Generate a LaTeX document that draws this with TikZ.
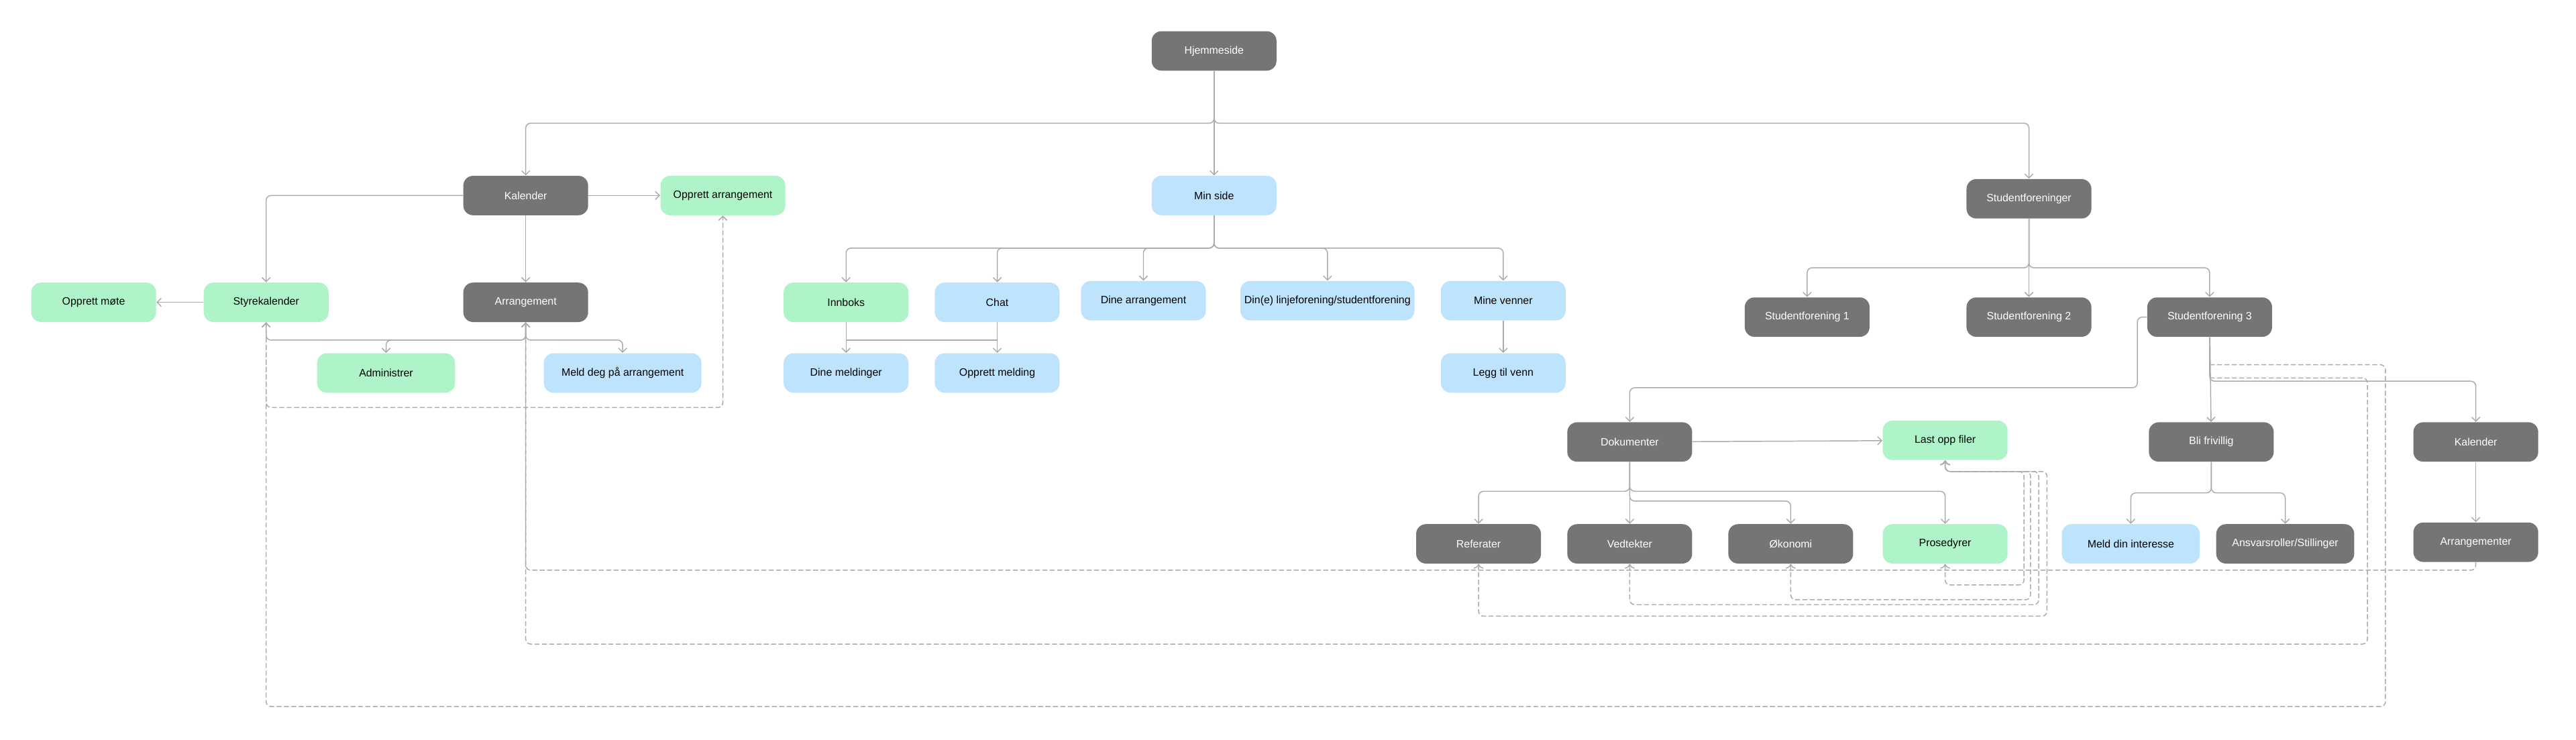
\documentclass[tikz,border=0pt]{standalone}
\usepackage{fontspec}
\setmainfont{Liberation Sans}
\usetikzlibrary{arrows.meta, positioning}
\definecolor{darkbox}{HTML}{757575}
\definecolor{greenbox}{HTML}{AEF4C8}
\definecolor{bluebox}{HTML}{BEE3FC}
\definecolor{linegray}{HTML}{ABABAB}

\begin{document}
\begin{tikzpicture}[x=1pt, y=-1pt, font=\fontsize{6.5}{8}\selectfont,
                box/.style={rounded corners=6pt, minimum width=76pt, minimum height=24pt, align=center, inner sep=2pt},
                dark/.style={box, fill=darkbox, text=white},
                green/.style={box, fill=greenbox},
                blue/.style={box, fill=bluebox},
                link/.style={draw=linegray, line width=0.6pt, rounded corners=3pt, -{Straight Barb[length=2.5pt,width=5pt]}},
                dlink/.style={link, dashed, dash pattern=on 3pt off 1.5pt}]

                \useasboundingbox[fill=white] (0,0) rectangle (1568,450);

                % Top level
                \node[dark] (home) at (739,31) {Hjemmeside};
                \node[dark] (kal) at (320,119) {Kalender};
                \node[green] (oppArr) at (440,119) {Opprett arrangement};
                \node[blue] (min) at (739,119) {Min side};
                \node[dark] (sfs) at (1235,121) {Studentforeninger};

                % Calendar branch
                \node[green] (oppMote) at (57,184) {Opprett møte};
                \node[green] (styre) at (162,184) {Styrekalender};
                \node[dark] (arr) at (320,184) {Arrangement};
                \node[green, minimum width=84pt] (admin) at (235,227) {Administrer};
                \node[blue, minimum width=96pt] (meld) at (379,227) {Meld deg på arrangement};

                % Min side branch
                \node[green] (innboks) at (515,184) {Innboks};
                \node[blue] (chat) at (607,184) {Chat};
                \node[blue] (dineArr) at (696,183) {Dine arrangement};
                \node[blue, minimum width=106pt] (linje) at (808,183) {Din(e) linjeforening/studentforening};
                \node[blue] (venner) at (915,183) {Mine venner};
                \node[blue] (dineMeld) at (515,227) {Dine meldinger};
                \node[blue] (oppMeld) at (607,227) {Opprett melding};
                \node[blue] (leggTil) at (915,227) {Legg til venn};

                % Student associations
                \node[dark] (sf1) at (1100,193) {Studentforening 1};
                \node[dark] (sf2) at (1235,193) {Studentforening 2};
                \node[dark] (sf3) at (1345,193) {Studentforening 3};
                \node[dark] (dok) at (992,269) {Dokumenter};
                \node[green] (last) at (1184,268) {Last opp filer};
                \node[dark] (frivillig) at (1346,269) {Bli frivillig};
                \node[dark] (kal2) at (1507,269) {Kalender};
                \node[dark] (ref) at (900,331) {Referater};
                \node[dark] (ved) at (992,331) {Vedtekter};
                \node[dark] (oko) at (1090,331) {Økonomi};
                \node[green] (pros) at (1184,331) {Prosedyrer};
                \node[blue, minimum width=84pt] (interesse) at (1297,331) {Meld din interesse};
                \node[dark, minimum width=84pt] (roller) at (1391,331) {Ansvarsroller/Stillinger};
                \node[dark] (arrs) at (1507,330) {Arrangementer};

                % Solid connectors
                \draw[link] (home.south) |- (kal.north |- 0,75) -- (kal.north);
                \draw[link] (home.south) -- (min.north);
                \draw[link] (home.south) |- (sfs.north |- 0,75) -- (sfs.north);
                \draw[link] (kal.west) -| (styre.north);
                \draw[link] (kal) -- (oppArr);
                \draw[link] (kal) -- (arr);
                \draw[link] (styre) -- (oppMote);
                \draw[link] (arr.south) |- (admin.north |- 0,207) -- (admin.north);
                \draw[link] (arr.south) |- (meld.north |- 0,207) -- (meld.north);
                \draw[link] (admin.north |- 0,207) -| (styre.south);
                \draw[link] (admin.north |- 0,207) -| (arr.south);
                \foreach \t in {innboks, chat, dineArr, linje, venner}
                    \draw[link] (min.south) |- (\t.north |- 0,151) -- (\t.north);
                \draw[link] (innboks) -- (dineMeld);
                \draw[link] (chat) -- (oppMeld);
                \draw[draw=linegray, line width=0.6pt] (innboks.south |- 0,207) -- (chat.south |- 0,207);
                \draw[link] (venner) -- (leggTil);
                \foreach \t in {sf1, sf2, sf3}
                    \draw[link] (sfs.south) |- (\t.north |- 0,163) -- (\t.north);
                \draw[link] (sf3.west) -| (1301,236) -| (dok.north);
                \draw[link] (sf3) -- (frivillig);
                \draw[link] (sf3.south) |- (kal2.north |- 0,232) -- (kal2.north);
                \draw[link] (dok) -- (last);
                \foreach \t in {ref, ved, pros}
                    \draw[link] (dok.south) |- (\t.north |- 0,299) -- (\t.north);
                \draw[link] (dok.south) |- (oko.north |- 0,305) -- (oko.north);
                \draw[link] (frivillig.south) |- (interesse.north |- 0,300) -- (interesse.north);
                \draw[link] (frivillig.south) |- (roller.north |- 0,300) -- (roller.north);
                \draw[link] (kal2) -- (arrs);

                % Dashed connectors
                \draw[dlink] (styre.south) |- (oppArr.south |- 0,248) -- (oppArr.south);
                \draw[dlink] (sf3.south |- 0,222) -| (1452,430) -| (styre.south);
                \draw[dlink] (sf3.south |- 0,230) -| (1441,392) -| (arr.south);
                \draw[dlink] (arrs.south) |- (arr.south |- 0,347) -- (arr.south);
                \draw[dlink, <->] (pros.south) |- (1232,356) |- (last.south |- 0,287) -- (last.south);
                \draw[dlink, <->] (oko.south) |- (1236,365) |- (last.south |- 0,287) -- (last.south);
                \draw[dlink, <->] (ved.south) |- (1241,368) |- (last.south |- 0,287) -- (last.south);
                \draw[dlink, <->] (ref.south) |- (1246,375) |- (last.south |- 0,287) -- (last.south);
            \end{tikzpicture}
\end{document}
